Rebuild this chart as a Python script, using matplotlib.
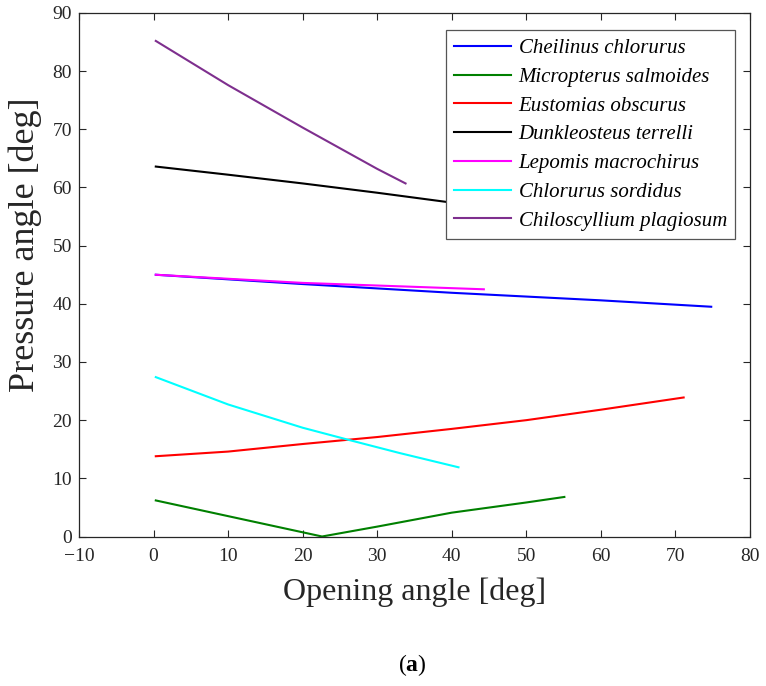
import matplotlib
matplotlib.use("Agg")
import matplotlib.pyplot as plt

plt.rcParams['font.family'] = ['Liberation Serif', 'DejaVu Serif']
plt.rcParams['mathtext.fontset'] = 'custom'
plt.rcParams['mathtext.rm'] = 'Liberation Serif'
plt.rcParams['mathtext.bf'] = 'Liberation Serif:bold'

# ---- data ----
cheilinus_x = [0.3, 20, 40, 60, 74.8]
cheilinus_y = [45.0, 43.4, 41.9, 40.6, 39.5]

micropterus_x = [0.3, 10, 22.6, 30, 40, 50, 55.1]
micropterus_y = [6.2, 3.5, 0.0, 1.7, 4.1, 5.85, 6.8]

eustomias_x = [0.3, 10, 20, 30, 40, 50, 60, 71.1]
eustomias_y = [13.8, 14.6, 15.9, 17.1, 18.5, 20.0, 21.8, 23.9]

dunkleosteus_x = [0.3, 10, 20, 30, 40, 48]
dunkleosteus_y = [63.6, 62.2, 60.7, 59.1, 57.4, 56.0]

lepomis_x = [0.3, 20, 44.3]
lepomis_y = [45.0, 43.6, 42.5]

chlorurus_x = [0.3, 10, 20, 26.5, 33, 40.9]
chlorurus_y = [27.4, 22.7, 18.7, 16.5, 14.35, 11.9]

chiloscyllium_x = [0.3, 10, 20, 30, 33.8]
chiloscyllium_y = [85.2, 77.6, 70.3, 63.2, 60.7]

labels = ["Cheilinus chlorurus", "Micropterus salmoides", "Eustomias obscurus",
          "Dunkleosteus terrelli", "Lepomis macrochirus", "Chlorurus sordidus",
          "Chiloscyllium plagiosum"]
colors = ["#0000ff", "#008000", "#ff0000", "#000000", "#ff00ff", "#00ffff", "#7e2f8e"]

xticks = [-10, 0, 10, 20, 30, 40, 50, 60, 70, 80]
yticks = [0, 10, 20, 30, 40, 50, 60, 70, 80, 90]

series = [(cheilinus_x, cheilinus_y), (micropterus_x, micropterus_y),
          (eustomias_x, eustomias_y), (dunkleosteus_x, dunkleosteus_y),
          (lepomis_x, lepomis_y), (chlorurus_x, chlorurus_y),
          (chiloscyllium_x, chiloscyllium_y)]

fig = plt.figure(figsize=(7.66, 6.86), dpi=100)
W, H = 766, 686
l, r, t, b = 79, 750, 13, 536.5
ax = fig.add_axes([l / W, 1 - b / H, (r - l) / W, (b - t) / H])

for (xs, ys), lab, c in zip(series, labels, colors):
    ax.plot(xs, ys, color=c, lw=1.5, label=lab)

ax.set_xlim(-10, 80)
ax.set_ylim(0, 90)
ax.set_xticks(xticks)
ax.set_yticks(yticks)
ax.set_xticklabels([("\u2212" + str(-v)) if v < 0 else str(v) for v in xticks])
axcol = '#262626'
for s in ax.spines.values():
    s.set_color(axcol)
    s.set_linewidth(0.9)
ax.tick_params(direction='in', length=5, width=0.8, color=axcol, top=True, right=True,
               labelsize=14, labelcolor='#262626')
ax.tick_params(axis='x', pad=8)
ax.tick_params(axis='y', pad=5)

fig.text(415 / W, 1 - 592.5 / H, "Opening angle [deg]", fontsize=23, color='#262626',
         ha='center', va='center')
fig.text(25 / W, 1 - 245 / H, "Pressure angle [deg]", fontsize=26, color='#262626',
         ha='center', va='center', rotation=90)

leg = ax.legend(loc='upper right', bbox_to_anchor=(0.978, 0.967), borderaxespad=0,
                fancybox=False, framealpha=1, edgecolor='#555555',
                prop={'style': 'italic', 'size': 15}, handlelength=2.75,
                handletextpad=0.35, labelspacing=0.44, borderpad=0.4)
leg.get_frame().set_linewidth(0.9)

fig.text(412 / W, 1 - 665 / H, r"($\mathbf{a}$)", ha='center', va='center', fontsize=17)

fig.savefig("out.png", dpi=100)
